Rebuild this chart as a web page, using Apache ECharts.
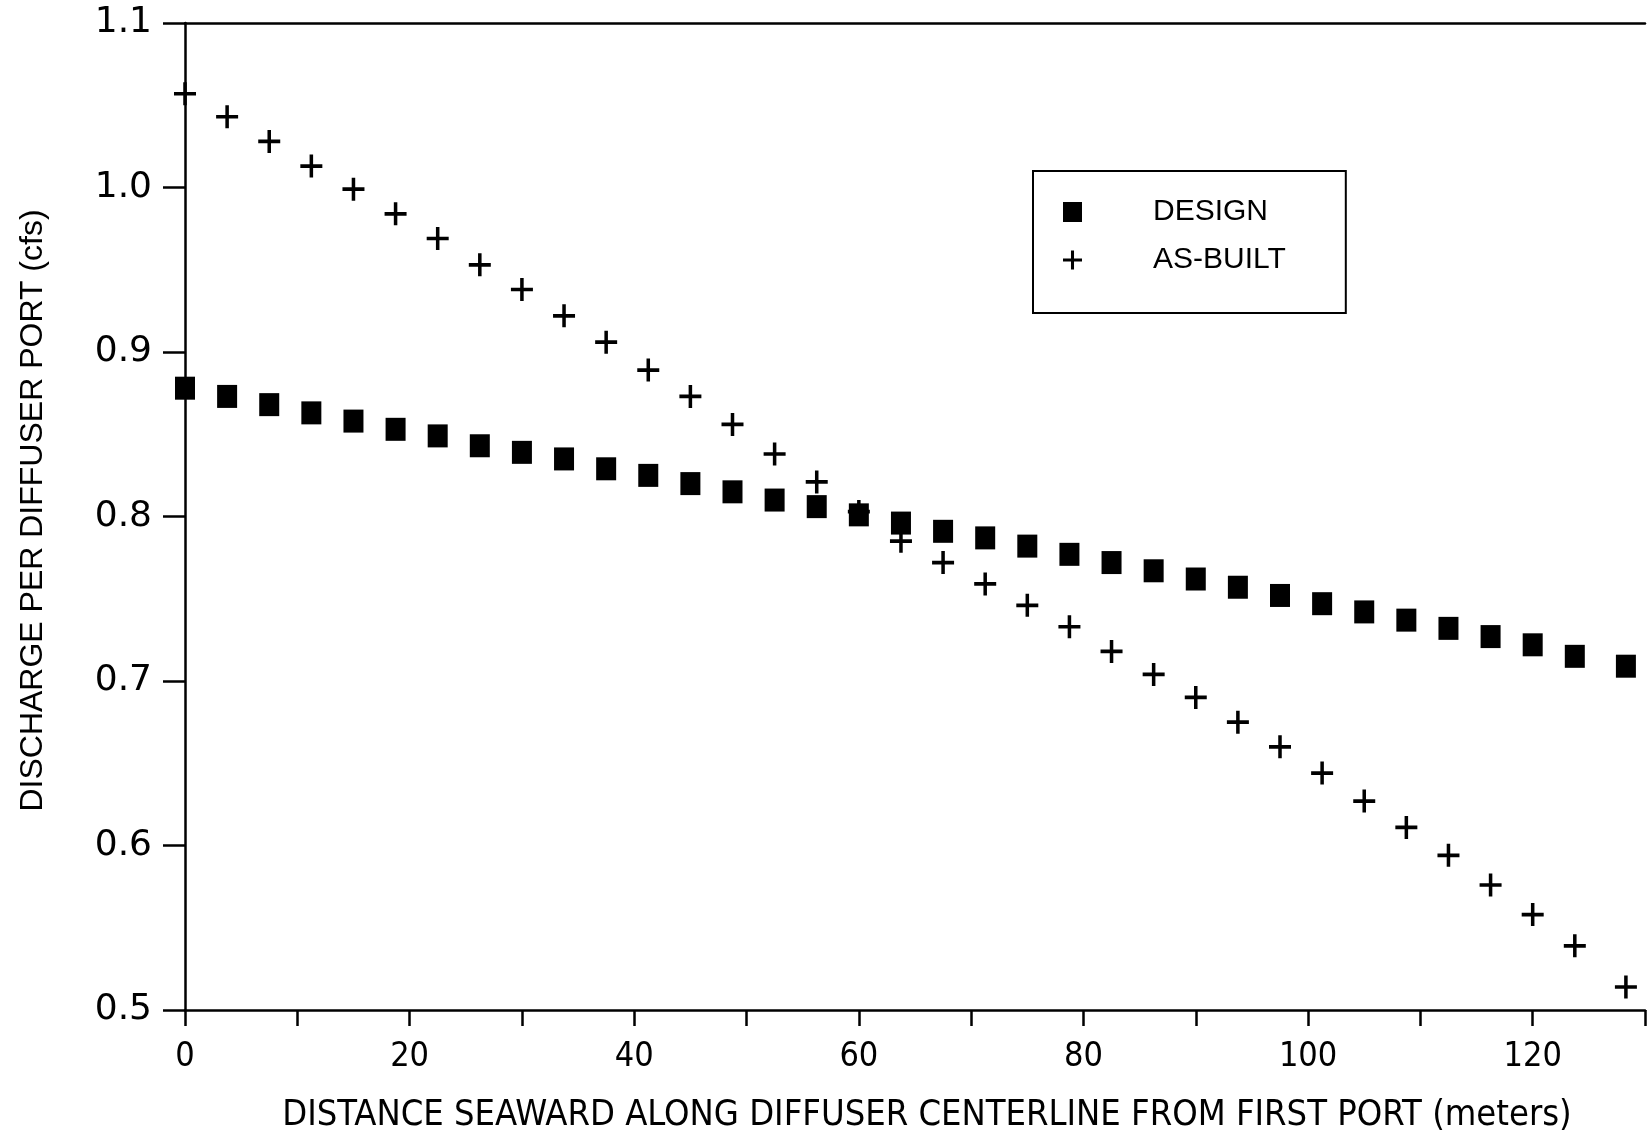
<!DOCTYPE html>
<html>
<head>
<meta charset="utf-8">
<script src="https://cdn.jsdelivr.net/npm/echarts@6/dist/echarts.min.js"></script>
<style>
  html, body { margin: 0; padding: 0; background: #fff; }
  #chart { width: 1648px; height: 1139px; }
</style>
</head>
<body>
<div id="chart"></div>
<script>
// Distance seaward along diffuser centerline (m) for each port
const distance = [0, 3.75, 7.5, 11.25, 15, 18.75, 22.5, 26.25, 30, 33.75, 37.5, 41.25, 45, 48.75,
  52.5, 56.25, 60, 63.75, 67.5, 71.25, 75, 78.75, 82.5, 86.25, 90, 93.75, 97.5, 101.25, 105,
  108.75, 112.5, 116.25, 120, 123.75, 128.3];

// Discharge per diffuser port (cfs)
const design = [0.878, 0.873, 0.868, 0.863, 0.858, 0.853, 0.849, 0.843, 0.839, 0.835, 0.829,
  0.825, 0.820, 0.815, 0.810, 0.806, 0.801, 0.796, 0.791, 0.787, 0.782, 0.777, 0.772, 0.767,
  0.762, 0.757, 0.752, 0.747, 0.742, 0.737, 0.732, 0.727, 0.722, 0.715, 0.709];

const asBuilt = [1.057, 1.043, 1.028, 1.013, 0.999, 0.984, 0.969, 0.953, 0.938, 0.922, 0.906,
  0.889, 0.873, 0.856, 0.838, 0.821, 0.803, 0.785, 0.772, 0.759, 0.746, 0.733, 0.718, 0.704,
  0.690, 0.675, 0.660, 0.644, 0.627, 0.611, 0.594, 0.576, 0.558, 0.539, 0.514];

const seriesNames = ['DESIGN', 'AS-BUILT'];
const xTitle = 'DISTANCE SEAWARD ALONG DIFFUSER CENTERLINE FROM FIRST PORT (meters)';
const yTitle = 'DISCHARGE PER DIFFUSER PORT (cfs)';

const ink = '#000';
const narrow = "'Liberation Sans Narrow', 'DejaVu Sans Condensed', 'Liberation Sans', sans-serif";
const plusPath = 'path://M0,8.4H8.4V0H11.6V8.4H20V11.6H11.6V20H8.4V11.6H0Z';

const chart = echarts.init(document.getElementById('chart'), null, { renderer: 'canvas' });

chart.setOption({
  backgroundColor: '#fff',
  animation: false,
  grid: { left: 185, right: 0, top: 23, bottom: 128, containLabel: false },
  legend: {
    orient: 'vertical',
    left: 1033,
    top: 171,
    padding: [26, 60, 38, 30],
    itemGap: 18,
    itemWidth: 19,
    itemHeight: 20,
    borderColor: ink,
    borderWidth: 2,
    borderRadius: 0,
    textStyle: {
      fontFamily: "'Liberation Sans', Arial, sans-serif",
      fontSize: 30,
      lineHeight: 30,
      color: ink,
      padding: [0, 0, 0, 66]
    },
    data: seriesNames
  },
  xAxis: [
    {
      type: 'value',
      position: 'bottom',
      min: 0,
      max: 130,
      interval: 10,
      axisLine: { show: true, onZero: false, lineStyle: { color: ink, width: 2.5 } },
      axisTick: { show: true, inside: false, length: 16, lineStyle: { color: ink, width: 2.5 } },
      axisLabel: {
        margin: 30,
        fontFamily: narrow,
        fontSize: 34,
        color: ink,
        formatter: v => (v % 20 === 0 && v <= 120 ? String(v) : '')
      },
      splitLine: { show: false },
      name: xTitle,
      nameLocation: 'middle',
      nameGap: 88,
      nameTextStyle: { fontFamily: narrow, fontSize: 36, color: ink, padding: [0, 0, 0, 24] }
    },
    {
      type: 'value',
      position: 'top',
      min: 0,
      max: 130,
      axisLine: { show: true, onZero: false, lineStyle: { color: ink, width: 2.5 } },
      axisTick: { show: false },
      axisLabel: { show: false },
      splitLine: { show: false }
    }
  ],
  yAxis: {
    type: 'value',
    min: 0.5,
    max: 1.1,
    interval: 0.1,
    axisLine: { show: true, onZero: false, lineStyle: { color: ink, width: 2.5 } },
    axisTick: { show: true, inside: false, length: 22, lineStyle: { color: ink, width: 2.5 } },
    axisLabel: {
      margin: 33,
      fontFamily: "'DejaVu Sans', sans-serif",
      fontSize: 36,
      color: ink,
      formatter: v => v.toFixed(1)
    },
    splitLine: { show: false },
    name: yTitle,
    nameLocation: 'middle',
    nameRotate: 90,
    nameGap: 136,
    nameTextStyle: { fontFamily: "'Liberation Sans', Arial, sans-serif", fontSize: 32, color: ink, padding: [0, 0, 0, 12] }
  },
  series: [
    {
      name: seriesNames[0],
      type: 'scatter',
      symbol: 'rect',
      symbolSize: [20, 23],
      itemStyle: { color: ink, opacity: 1 },
      data: distance.map((d, i) => [d, design[i]])
    },
    {
      name: seriesNames[1],
      type: 'scatter',
      symbol: plusPath,
      symbolSize: [22, 23],
      itemStyle: { color: ink, opacity: 1 },
      data: distance.map((d, i) => [d, asBuilt[i]])
    }
  ]
});
</script>
</body>
</html>
